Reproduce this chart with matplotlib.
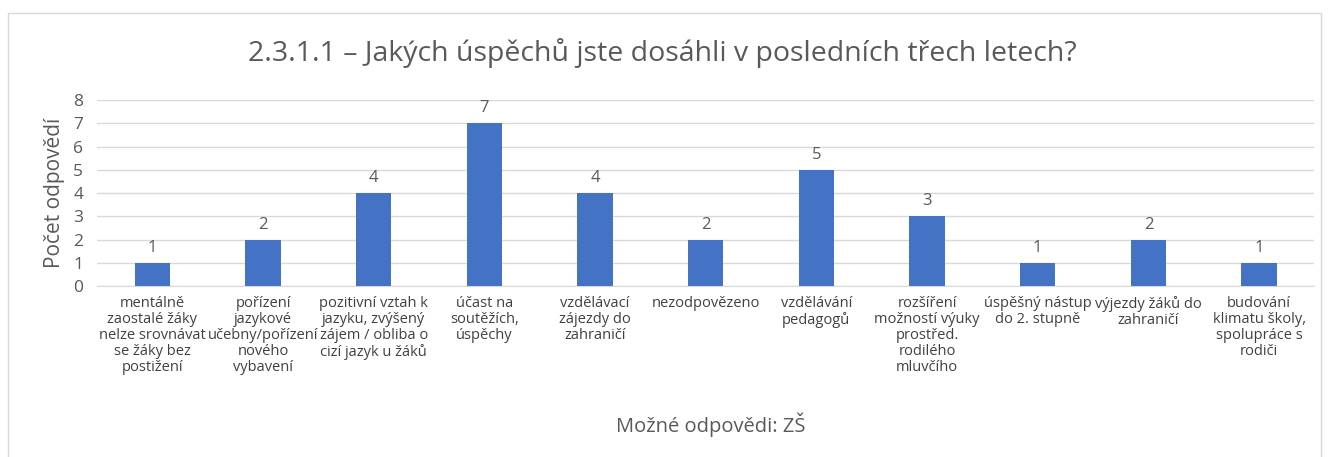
import matplotlib.pyplot as plt
from matplotlib.patches import Rectangle
import numpy as np

plt.rcParams["font.family"] = ["Open Sans", "DejaVu Sans"]

categories = [
    "mentálně\nzaostalé žáky\nnelze srovnávat\nse žáky bez\npostižení",
    "pořízení\njazykové\nučebny/pořízení\nnového\nvybavení",
    "pozitivní vztah k\njazyku, zvýšený\nzájem / obliba o\ncizí jazyk u žáků",
    "účast na\nsoutěžích,\núspěchy",
    "vzdělávací\nzájezdy do\nzahraničí",
    "nezodpovězeno",
    "vzdělávání\npedagogů",
    "rozšíření\nmožností výuky\nprostřed.\nrodilého\nmluvčího",
    "úspěšný nástup\ndo 2. stupně",
    "výjezdy žáků do\nzahraničí",
    "budování\nklimatu školy,\nspolupráce s\nrodiči",
]
counts = [1, 2, 4, 7, 4, 2, 5, 3, 1, 2, 1]
y_ticks = [0, 1, 2, 3, 4, 5, 6, 7, 8]

bar_color = "#4472C4"
text_color = "#595959"

fig = plt.figure(figsize=(13.29, 4.57), dpi=100)
fig.patches.append(Rectangle((0.006, -0.01), 0.988, 0.982, transform=fig.transFigure,
                             fill=False, edgecolor="#D9D9D9", linewidth=1))
ax = fig.add_axes([0.073, 0.374, 0.916, 0.407])

x = np.arange(len(categories))
bars = ax.bar(x, counts, width=0.32, color=bar_color, zorder=3)
for xi, v in zip(x, counts):
    ax.text(xi, v + 0.3, str(v), ha="center", va="bottom", fontsize=12, color=text_color)

ax.set_xlim(-0.5, len(categories) - 0.5)
ax.set_ylim(0, 8)
ax.set_yticks(y_ticks)
ax.yaxis.grid(True, color="#D9D9D9", linewidth=1, zorder=0)
ax.tick_params(axis="y", length=0, labelsize=12.5, labelcolor=text_color, pad=10)
ax.set_xticks(x)
ax.set_xticklabels(categories, fontsize=10.5, color="#404040", linespacing=1.1,
                   family=["Liberation Sans Narrow", "Open Sans", "DejaVu Sans"])
ax.tick_params(axis="x", length=0, pad=7)
for s in ["top", "right", "left"]:
    ax.spines[s].set_visible(False)
ax.spines["bottom"].set_color("#D9D9D9")

ax.set_ylabel("Počet odpovědí", fontsize=15, color=text_color, labelpad=6)
fig.text(0.535, 0.07, "Možné odpovědi: ZŠ", ha="center", va="center",
         fontsize=14.5, color=text_color)
fig.text(0.498, 0.885, "2.3.1.1 – Jakých úspěchů jste dosáhli v posledních třech letech?",
         ha="center", va="center", fontsize=20.5, color=text_color)

fig.savefig("out.png", dpi=100)
